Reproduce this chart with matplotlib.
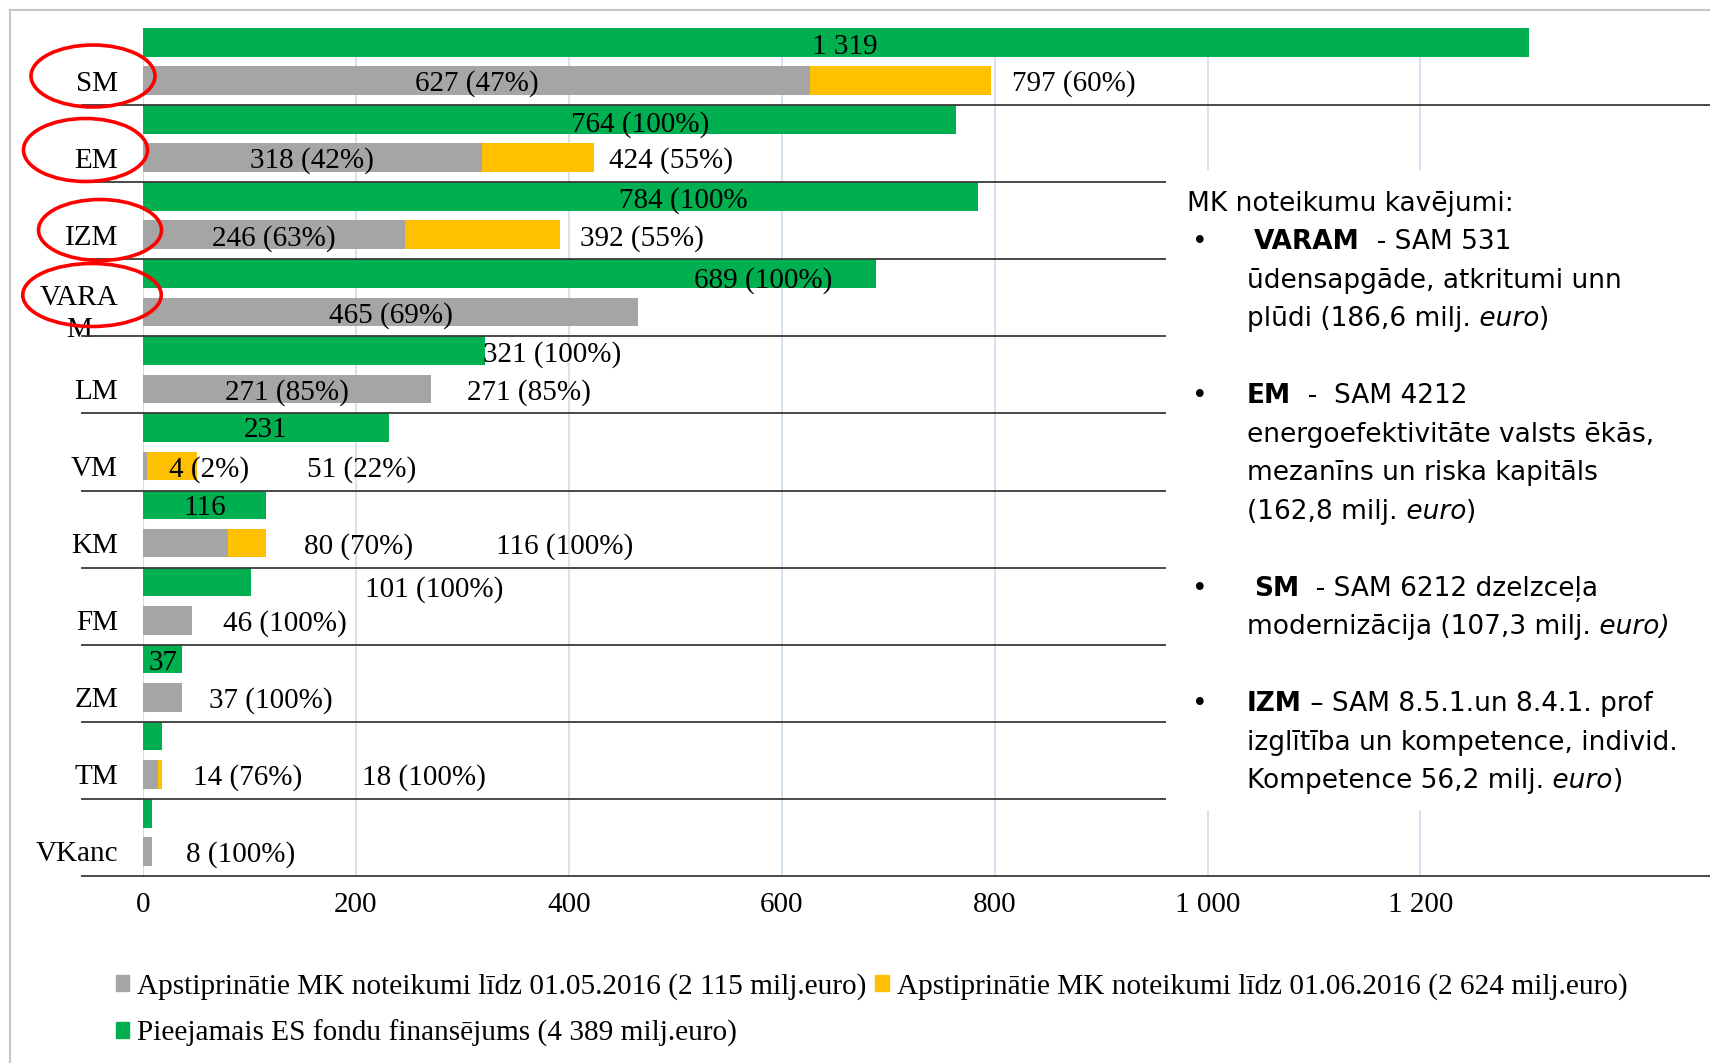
import numpy as np
import matplotlib
matplotlib.use("Agg")
import matplotlib.pyplot as plt
from matplotlib.patches import Ellipse, Rectangle, Patch
from matplotlib.lines import Line2D
from matplotlib.transforms import ScaledTranslation

# ---------------- data ----------------
categories = ["SM", "EM", "IZM", "VARA\nM", "LM", "VM", "KM", "FM", "ZM", "TM", "VKanc"]
available = [1302, 764, 784, 689, 321, 231, 116, 101, 37, 18, 8]          # green
approved_may = [627, 318, 246, 465, 271, 4, 80, 46, 37, 14, 8]            # gray
approved_june = [797, 424, 392, 465, 271, 51, 116, 46, 37, 18, 8]         # gray + yellow

green_labels = ["1 319", "764 (100%)", "784 (100%", "689 (100%)", "321 (100%)",
                "231", "116", "101 (100%)", "37", "", ""]
gray_labels = ["627 (47%)", "318 (42%)", "246 (63%)", "465 (69%)", "271 (85%)",
               "4 (2%)", "80 (70%)", "46 (100%)", "37 (100%)", "14 (76%)", "8 (100%)"]
june_labels = ["797 (60%)", "424 (55%)", "392 (55%)", "", "271 (85%)",
               "51 (22%)", "116 (100%)", "", "", "18 (100%)", ""]

xticks = [0, 200, 400, 600, 800, 1000, 1200]
legend_labels = ["Apstiprinātie MK noteikumi līdz 01.05.2016 (2 115 milj.euro)",
                 "Apstiprinātie MK noteikumi līdz 01.06.2016 (2 624 milj.euro)",
                 "Pieejamais ES fondu finansējums (4 389 milj.euro)"]

# ---------------- layout (label positions in data units) ----------------
green_label_x = [659.5, 467, 508, 583, 384, 115.5, 58, 273.5, 18.5, 0, 0]
green_label_dy = [-0.26, -0.25, -0.26, -0.23, -0.27, -0.28, -0.27, -0.21, -0.265, 0, 0]
gray_label_x = [313.5, 159, 123, 232.5, 135.5, 62.4, 202.7, 133, 119.8, 98.2, 92]
june_label_x = [874, 495.7, 469, 0, 362.6, 205.8, 396.4, 0, 0, 264, 0]
gray_label_dy = 0.225

W, H = 1710, 1063
GREEN, GRAY, YELLOW = "#00B050", "#A5A5A5", "#FFC000"
SERIF = "Liberation Serif"
SANS = "DejaVu Sans"

fig = plt.figure(figsize=(W / 100, H / 100), dpi=100)
ax_left, ax_right, ax_top, ax_bottom = 143, 1710, 28, 876
ax = fig.add_axes([ax_left / W, 1 - ax_bottom / H, (ax_right - ax_left) / W,
                   (ax_bottom - ax_top) / H])

n = len(categories)
y = np.arange(n)
g_off, a_off, bh = -0.314, 0.182, 0.372

extra = np.array(approved_june) - np.array(approved_may)
b_gray = ax.barh(y + a_off, approved_may, height=bh, color=GRAY, zorder=2)
b_yel = ax.barh(y + a_off, extra, left=approved_may, height=bh, color=YELLOW, zorder=2)
b_green = ax.barh(y + g_off, available, height=bh, color=GREEN, zorder=2)

xmax = (ax_right - ax_left) / 1.0645
ax.set_xlim(0, xmax)
ax.set_ylim(n - 0.5, -0.5)

for s in ax.spines.values():
    s.set_visible(False)

ax.set_xticks(xticks)
ax.set_xticklabels([f"{v:,}".replace(",", " ") for v in xticks],
                   fontsize=21, family=SERIF)
ax.tick_params(axis="x", length=0, pad=11.5)
ax.set_yticks(y + a_off)
ax.set_yticklabels(categories, fontsize=21, family=SERIF, multialignment="center",
                   linespacing=1.3)
ax.tick_params(axis="y", length=0, pad=18)
# the two-line label sits a little higher in the original
for lbl in ax.get_yticklabels():
    if "\n" in lbl.get_text():
        lbl.set_transform(lbl.get_transform() + ScaledTranslation(0, 4 / 100, fig.dpi_scale_trans))

ax.set_axisbelow(True)
ax.xaxis.grid(True, color="#C9DAEE", lw=1.1, zorder=0)
ax.axvline(0, color="#D9D9D9", lw=1.5, zorder=1)

# separators between categories
trans = ax.get_yaxis_transform()
x0 = (82 - ax_left) / (ax_right - ax_left)
for b in y + 0.5:
    ax.plot([x0, 1.0], [b, b], transform=trans, color="#3A3A3A", lw=1.3,
            clip_on=False, zorder=3)

# bar labels
lab_kw = dict(fontsize=21, family=SERIF, va="center", ha="center", zorder=4)
for i in range(n):
    if green_labels[i]:
        ax.text(green_label_x[i], i + green_label_dy[i], green_labels[i], **lab_kw)
    if gray_labels[i]:
        ax.text(gray_label_x[i], i + gray_label_dy, gray_labels[i], **lab_kw)
    if june_labels[i]:
        ax.text(june_label_x[i], i + gray_label_dy, june_labels[i], **lab_kw)

# legend (row-major order: gray, yellow / green)
handles = [Patch(color=GRAY), Patch(color=GREEN), Patch(color=YELLOW)]
labels = [legend_labels[0], legend_labels[2], legend_labels[1]]
fig.legend(handles, labels, ncol=2, loc="upper left",
           bbox_to_anchor=(115.6 / W, 1 - 973 / H), frameon=False,
           prop={"family": SERIF, "size": 21.1}, handlelength=0.45,
           handleheight=0.45, handletextpad=0.29, columnspacing=0.3,
           labelspacing=0.66, borderpad=0, borderaxespad=0)

# figure border
fig.add_artist(Line2D([10 / W, 1], [1 - 10 / H, 1 - 10 / H], transform=fig.transFigure,
                      color="#C8C8C8", lw=1.5))
fig.add_artist(Line2D([10 / W, 10 / W], [0, 1 - 10 / H], transform=fig.transFigure,
                      color="#C8C8C8", lw=1.5))

# white text box
fig.add_artist(Rectangle((1166 / W, 1 - 810 / H), (W - 1166) / W, (810 - 170) / H,
                         transform=fig.transFigure, facecolor="white",
                         edgecolor="none", zorder=1.5))

# red ellipses around categories
for cx, cy, w, h in [(93, 76, 124, 62), (85.5, 150, 124, 63),
                     (100, 230, 123, 61), (92, 295, 138.5, 63)]:
    fig.add_artist(Ellipse((cx / W, 1 - cy / H), w / W, h / H,
                           transform=fig.transFigure, fill=False,
                           edgecolor="#FF0000", lw=2.6, zorder=10))

# annotation text
renderer = fig.canvas.get_renderer()
N, B, I = ("normal", "normal"), ("bold", "normal"), ("normal", "italic")
box_lines = [
    (0, 1187, False, [("MK noteikumu kavējumi:", N)]),
    (1, 1254, True, [("VARAM", B), ("  - SAM 531", N)]),
    (2, 1247, False, [("ūdensapgāde, atkritumi unn", N)]),
    (3, 1247, False, [("plūdi (186,6 milj.", N), (" euro", I), (")", N)]),
    (5, 1247, True, [("EM", B), ("  -  SAM 4212", N)]),
    (6, 1247, False, [("energoefektivitāte valsts ēkās,", N)]),
    (7, 1247, False, [("mezanīns un riska kapitāls", N)]),
    (8, 1247, False, [("(162,8 milj.", N), (" euro", I), (")", N)]),
    (10, 1254, True, [("SM", B), ("  - SAM 6212 dzelzceļa", N)]),
    (11, 1247, False, [("modernizācija (107,3 milj.", N), (" euro)", I)]),
    (13, 1247, True, [("IZM", B), (" – SAM 8.5.1.un 8.4.1. prof", N)]),
    (14, 1247, False, [("izglītība un kompetence, individ.", N)]),
    (15, 1247, False, [("Kompetence 56,2 milj.", N), (" euro", I), (")", N)]),
]
for idx, xs, bullet, runs in box_lines:
    yc = 201.8 + idx * 38.5
    yb = 1 - (yc + 9.0) / H
    if bullet:
        fig.text(1192 / W, yb, "•", fontsize=19, family=SANS, va="baseline",
                 ha="left", zorder=3)
    x = xs
    for txt, (wt, st) in runs:
        t = fig.text(x / W, yb, txt, fontsize=19, family=SANS, weight=wt, style=st,
                     va="baseline", ha="left", zorder=3)
        x += t.get_window_extent(renderer).width

fig.savefig("out.png", dpi=100, facecolor="white")
